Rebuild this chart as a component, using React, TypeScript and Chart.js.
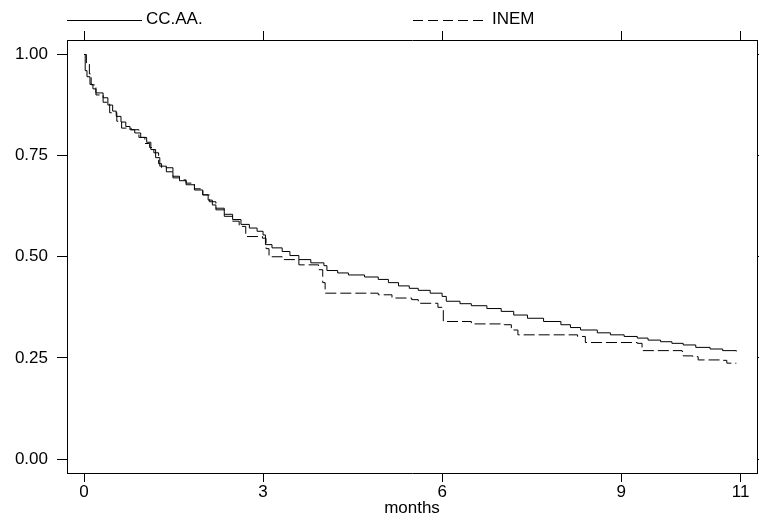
import React, { useEffect, useRef } from "react";
import { Chart, registerables } from "chart.js";

Chart.register(...registerables);

// ---- data ----
const seriesLabels = ["CC.AA.", "INEM"];
const xTitle = "months";
const xTickValues = [0, 3, 6, 9, 11];
const yTickValues = [0, 0.25, 0.5, 0.75, 1];

const ccaaMonths = [
  0, 0.02, 0.05, 0.1, 0.15, 0.2, 0.32, 0.4, 0.48, 0.54, 0.62, 0.7, 0.77, 0.85, 0.95,
  1.05, 1.12, 1.2, 1.27, 1.38, 1.49, 1.6, 1.71, 1.85, 1.99, 2.08, 2.15, 2.21, 2.35,
  2.49, 2.63, 2.77, 2.9, 3.0, 3.04, 3.15, 3.32, 3.45, 3.6, 3.8, 4.02, 4.07, 4.25,
  4.43, 4.7, 4.93, 5.1, 5.27, 5.45, 5.6, 5.8, 6.0, 6.07, 6.3, 6.49, 6.75, 6.99, 7.2,
  7.43, 7.7, 7.99, 8.15, 8.32, 8.6, 8.82, 9.05, 9.27, 9.45, 9.66, 9.85, 10.04, 10.25,
  10.49, 10.7, 10.93,
];
const ccaaSurvival = [
  1.0, 0.96, 0.945, 0.926, 0.915, 0.905, 0.893, 0.875, 0.86, 0.847, 0.833, 0.822, 0.814,
  0.806, 0.795, 0.783, 0.765, 0.745, 0.724, 0.71, 0.699, 0.688, 0.678, 0.665, 0.653,
  0.64, 0.628, 0.62, 0.605, 0.592, 0.58, 0.571, 0.563, 0.554, 0.53, 0.522, 0.513, 0.503,
  0.493, 0.485, 0.478, 0.466, 0.46, 0.455, 0.45, 0.444, 0.436, 0.428, 0.422, 0.417,
  0.41, 0.402, 0.39, 0.384, 0.379, 0.372, 0.365, 0.356, 0.348, 0.34, 0.332, 0.325,
  0.319, 0.312, 0.307, 0.303, 0.299, 0.294, 0.29, 0.286, 0.282, 0.276, 0.272, 0.268,
  0.266,
];

const inemMonths = [
  0, 0.04, 0.09, 0.12, 0.2, 0.32, 0.43, 0.55, 0.63, 0.79, 0.92, 1.02, 1.1, 1.17, 1.25,
  1.3, 1.49, 1.6, 1.71, 1.85, 1.99, 2.1, 2.21, 2.35, 2.49, 2.6, 2.71, 2.99, 3.05, 3.1,
  3.32, 3.6, 3.93, 4.0, 4.04, 4.93, 5.16, 5.49, 5.6, 5.93, 6.02, 6.49, 7.04, 7.16,
  7.27, 8.27, 8.4, 9.27, 9.35, 10.02, 10.04, 10.2, 10.29, 10.7, 10.77, 10.93,
];
const inemSurvival = [
  1.0, 0.977, 0.952, 0.925, 0.9, 0.882, 0.856, 0.835, 0.818, 0.814, 0.795, 0.78, 0.77,
  0.757, 0.73, 0.72, 0.695, 0.69, 0.682, 0.668, 0.653, 0.636, 0.616, 0.6, 0.588, 0.575,
  0.55, 0.546, 0.52, 0.5, 0.493, 0.48, 0.468, 0.436, 0.41, 0.406, 0.398, 0.394, 0.385,
  0.375, 0.34, 0.334, 0.332, 0.319, 0.307, 0.303, 0.288, 0.286, 0.268, 0.266, 0.255,
  0.253, 0.245, 0.244, 0.237, 0.237,
];

const FONT_FAMILY = "'Liberation Sans', Arial, Helvetica, sans-serif";
const FONT_SIZE = 17;

const legendPlugin = {
  id: "statLegend",
  afterDraw(chart: any) {
    const ctx = chart.ctx;
    const ca = chart.chartArea;
    ctx.save();
    ctx.fillStyle = "#000";
    ctx.font = `${FONT_SIZE}px ${FONT_FAMILY}`;
    ctx.textBaseline = "middle";
    ctx.textAlign = "left";
    const y = 20;
    // item 1 (solid)
    const x1 = ca.left;
    ctx.fillRect(x1, y, 75, 1);
    ctx.fillText(seriesLabels[0], x1 + 79, y - 0.5);
    // item 2 (dashed), drawn as separate dashes
    const x2 = 413;
    for (let d = 0; d < 5; d++) {
      ctx.fillRect(x2 + d * 15, y, 10, 1);
    }
    ctx.fillText(seriesLabels[1], x2 + 79, y - 0.5);
    ctx.restore();
  },
};

export default function App() {
  const canvasRef = useRef<HTMLCanvasElement | null>(null);

  useEffect(() => {
    const canvas = canvasRef.current;
    if (!canvas) return;
    const font = { family: FONT_FAMILY, size: FONT_SIZE };
    const xMin = -0.285;
    const xMax = 11.276;
    const yMin = -0.0345;
    const yMax = 1.0358;
    const setXTicks = (s: any) => {
      s.ticks = xTickValues.map((v) => ({ value: v }));
    };
    const setYTicks = (s: any) => {
      s.ticks = yTickValues.map((v) => ({ value: v }));
    };
    const chart = new Chart(canvas, {
      type: "line",
      data: {
        datasets: [
          {
            label: seriesLabels[0],
            data: ccaaMonths.map((m, i) => ({ x: m, y: ccaaSurvival[i] })),
            stepped: true,
            borderColor: "#000",
            borderWidth: 1,
            pointRadius: 0,
            fill: false,
          },
          {
            label: seriesLabels[1],
            data: inemMonths.map((m, i) => ({ x: m, y: inemSurvival[i] })),
            stepped: true,
            borderColor: "#000",
            borderWidth: 1,
            borderDash: [11, 4],
            pointRadius: 0,
            fill: false,
          },
        ],
      },
      options: {
        responsive: false,
        animation: false,
        events: [],
        layout: { padding: 0 },
        plugins: { legend: { display: false }, tooltip: { enabled: false } },
        scales: {
          x: {
            type: "linear",
            position: "bottom",
            min: xMin,
            max: xMax,
            afterBuildTicks: setXTicks,
            afterFit: (s: any) => {
              s.height = 47;
            },
            ticks: {
              callback: (v: any) => String(v),
              font,
              color: "#000",
              padding: 0,
              maxRotation: 0,
              autoSkip: false,
            },
            grid: { drawOnChartArea: false, drawTicks: true, tickLength: 9, color: "#000", lineWidth: 1 },
            border: { display: true, color: "#000", width: 1 },
            title: { display: true, text: xTitle, font, color: "#000", padding: { top: 0, bottom: 1 } },
          },
          xTop: {
            type: "linear",
            position: "top",
            min: xMin,
            max: xMax,
            afterBuildTicks: setXTicks,
            afterFit: (s: any) => {
              s.height = 40;
            },
            ticks: { display: false },
            grid: { drawOnChartArea: false, drawTicks: true, tickLength: 9, color: "#000", lineWidth: 1 },
            border: { display: true, color: "#000", width: 1 },
          },
          y: {
            type: "linear",
            position: "left",
            min: yMin,
            max: yMax,
            afterBuildTicks: setYTicks,
            afterFit: (s: any) => {
              s.width = 67;
            },
            ticks: {
              callback: (v: any) => Number(v).toFixed(2),
              font,
              color: "#000",
              padding: 9,
            },
            grid: { drawOnChartArea: false, drawTicks: true, tickLength: 10, color: "#000", lineWidth: 1 },
            border: { display: true, color: "#000", width: 1 },
          },
          yRight: {
            type: "linear",
            position: "right",
            min: yMin,
            max: yMax,
            afterBuildTicks: setYTicks,
            afterFit: (s: any) => {
              s.width = 2;
            },
            ticks: { display: false },
            grid: { drawOnChartArea: false, drawTicks: true, tickLength: 2, color: "#000", lineWidth: 1 },
            border: { display: true, color: "#000", width: 1 },
          },
        },
      },
      plugins: [legendPlugin],
    } as any);
    return () => chart.destroy();
  }, []);

  return (
    <div style={{ position: "fixed", left: 0, top: 0, width: 759, height: 520, background: "#fff" }}>
      <canvas ref={canvasRef} width={759} height={520} style={{ display: "block" }} />
    </div>
  );
}
